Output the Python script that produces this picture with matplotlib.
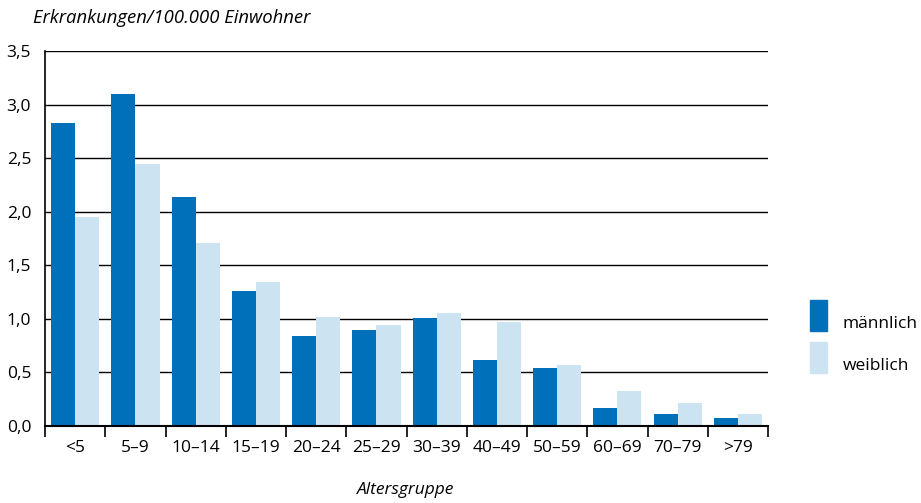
import numpy as np
import matplotlib
matplotlib.use('Agg')
import matplotlib.pyplot as plt
from matplotlib.patches import Rectangle

matplotlib.rcParams['font.family'] = ['Open Sans', 'DejaVu Sans']
matplotlib.rcParams['font.size'] = 12

# Daten
gruppen = ['<5', '5–9', '10–14', '15–19', '20–24', '25–29', '30–39',
           '40–49', '50–59', '60–69', '70–79', '>79']
maennlich = [2.83, 3.10, 2.14, 1.26, 0.84, 0.90, 1.01, 0.62, 0.54, 0.17, 0.11, 0.07]
weiblich = [1.95, 2.45, 1.71, 1.34, 1.02, 0.94, 1.05, 0.97, 0.57, 0.33, 0.21, 0.11]
y_werte = [0.0, 0.5, 1.0, 1.5, 2.0, 2.5, 3.0, 3.5]
y_labels = ['0,0', '0,5', '1,0', '1,5', '2,0', '2,5', '3,0', '3,5']
serien = ['männlich', 'weiblich']

farbe_m = '#0070BA'
farbe_w = '#CCE3F1'

fig = plt.figure(figsize=(9.21, 5.03), dpi=100)
ax = fig.add_axes([0.0489, 0.1531, 0.785, 0.7455])

x = np.arange(len(gruppen))
ax.bar(x - 0.2, maennlich, width=0.4, color=farbe_m, zorder=2)
ax.bar(x + 0.2, weiblich, width=0.4, color=farbe_w, zorder=2)

ax.set_xlim(-0.5, len(gruppen) - 0.5)
ax.set_ylim(0, 3.5)

# y-Achse
ax.set_yticks(y_werte)
ax.set_yticklabels(y_labels)
ax.tick_params(axis='y', length=0, pad=10, labelsize=12.5)
for yv in y_werte[1:]:
    ax.axhline(yv, color='black', lw=1.0, zorder=1)

# x-Achse: Striche an den Grenzen, Beschriftung in der Mitte
ax.set_xticks(np.arange(len(gruppen) + 1) - 0.5)
ax.set_xticklabels([])
ax.tick_params(axis='x', which='major', length=8, width=1.2, direction='out')
ax.set_xticks(x, minor=True)
ax.set_xticklabels(gruppen, minor=True)
ax.tick_params(axis='x', which='minor', length=0, pad=10, labelsize=12.5)

for s in ['top', 'right']:
    ax.spines[s].set_visible(False)
ax.spines['left'].set_linewidth(1.2)
ax.spines['bottom'].set_linewidth(1.5)

fig.text(0.036, 0.965, 'Erkrankungen/100.000 Einwohner', style='italic',
         fontsize=13.3, va='center', ha='left')
fig.text(0.441, 0.026, 'Altersgruppe', style='italic',
         fontsize=12.5, va='center', ha='center')

# Legende
farben = [farbe_m, farbe_w]
for i, (name, f) in enumerate(zip(serien, farben)):
    unten = 0.3419 - i * 0.0835
    fig.add_artist(Rectangle((0.8795, unten), 0.0185, 0.0616,
                             transform=fig.transFigure, color=f))
    fig.text(0.9153, unten + 0.013, name, fontsize=12.5,
             va='center', ha='left')

fig.savefig('out.png', dpi=100)
